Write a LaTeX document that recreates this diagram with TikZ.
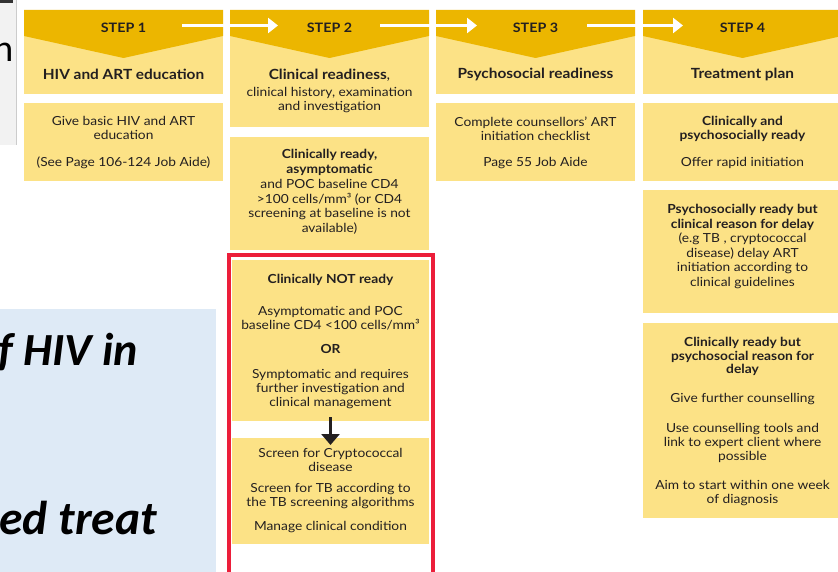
\documentclass[tikz,border=0pt]{standalone}
\usepackage{fontspec}
\setmainfont{Lato}[FakeStretch=1.1]
\newfontfamily\calib{Carlito}
\usetikzlibrary{arrows.meta}
\definecolor{gold}{RGB}{236,182,0}
\definecolor{lightyel}{RGB}{252,226,134}
\definecolor{redb}{RGB}{236,30,58}
\definecolor{bluebg}{RGB}{222,234,246}
\definecolor{greybg}{RGB}{242,242,242}
\definecolor{ink}{RGB}{35,31,32}
\begin{document}
\begin{tikzpicture}[x=1pt,y=-1pt,
  body/.style={align=center, font=\fontsize{12.5}{14}\selectfont, inner sep=0pt, text=ink},
  bsub/.style={align=center, font=\fontsize{12.5}{14}\selectfont\bfseries, inner sep=0pt, text=ink},
  htitle/.style={font=\fontsize{14}{16}\selectfont\bfseries, inner sep=0pt, text=ink},
  steplab/.style={font=\fontsize{13}{16}\selectfont\bfseries, inner sep=0pt, text=ink},
  ybox/.style={fill=lightyel, draw=none, anchor=north west, inner sep=0pt, minimum width=199pt},
  whitearrow/.style={draw=white, line width=3.2pt, -{Triangle[length=10pt,width=15pt]}},
  bigtext/.style={font=\calib\fontsize{46}{46}\selectfont\bfseries\itshape, inner sep=0pt, anchor=base west},
]
\useasboundingbox (0,0) rectangle (838,572);
\clip (0,0) rectangle (838,572);
\fill[white] (0,0) rectangle (838,572);

% left slide remnants
\fill[greybg] (0,0) rectangle (17,145);
\draw[black!20, line width=0.8pt] (16.5,0) -- (16.5,145);
\fill[black!80] (0,0) rectangle (13,3.5);
\node[font=\calib\fontsize{38}{38}\selectfont, inner sep=0pt, anchor=base east] (nglyph) at (13.5,62) {n};
\fill[bluebg] (0,309) rectangle (216,580);
\node[bigtext] (bt1) at (-2,365) {f HIV in};
\node[bigtext, font=\calib\fontsize{47.5}{47.5}\selectfont\bfseries\itshape, anchor=base east] (bt2) at (157,534) {ed treat};

% header bands
\foreach \L/\B in {24/94, 230/127, 436/94, 643/94}{
  \fill[lightyel] (\L,10) rectangle ({\L+199},\B);
  \fill[gold] (\L,10) -- ({\L+199},10) -- ({\L+199},36) -- ({\L+99.5},58) -- (\L,36) -- cycle;
}

% step arrows
\coordinate (a1s) at (182,25.5); \coordinate (a1e) at (278,25.5);
\coordinate (a2s) at (380,25.5); \coordinate (a2e) at (477,25.5);
\coordinate (a3s) at (587,25.5); \coordinate (a3e) at (683,25.5);
\draw[whitearrow] (a1s) -- (a1e);
\draw[whitearrow] (a2s) -- (a2e);
\draw[whitearrow] (a3s) -- (a3e);

% step labels and titles
\node[steplab] (s1) at (123.5,28) {STEP 1};
\node[steplab] (s2) at (329.5,28) {STEP 2};
\node[steplab] (s3) at (535.5,28) {STEP 3};
\node[steplab] (s4) at (742.5,28) {STEP 4};
\node[htitle] (t1) at (123.5,74) {HIV and ART education};
\node[htitle] (t2) at (329.5,75) {Clinical readiness{\mdseries ,}};
\node[body] (t2b) at (329.5,100) {clinical history, examination\\and investigation};
\node[htitle] (t3) at (535.5,74) {Psychosocial readiness};
\node[htitle] (t4) at (742.5,74) {Treatment plan};

% column 1
\node[ybox, minimum height=78pt] (b1) at (24,103) {};
\node[body] (b1a) at (123.5,128) {Give basic HIV and ART\\education};
\node[body] (b1b) at (123.5,163) {(See Page 106-124 Job Aide)};

% column 2
\node[ybox, minimum height=113pt] (b2) at (230,137) {};
\node[body, font=\fontsize{12.5}{14.7}\selectfont] (b2a) at (329.5,192) {\textbf{Clinically ready,}\\\textbf{asymptomatic}\\and POC baseline CD4\\>100 cells/mm³ (or CD4\\screening at baseline is not\\available)};
\node[ybox, minimum width=197pt, minimum height=161pt] (rb1) at (232,260) {};
\node[ybox, minimum width=197pt, minimum height=106pt] (rb2) at (232,438) {};
\node[bsub] (r1) at (330.5,280) {Clinically NOT ready};
\node[body] (r2) at (330.5,318.5) {Asymptomatic and POC\\baseline CD4 <100 cells/mm³};
\node[bsub] (r3) at (330.5,349) {OR};
\node[body] (r4) at (330.5,389.5) {Symptomatic and requires\\further investigation and\\clinical management};
\node[body] (r5) at (330.5,460) {Screen for Cryptococcal\\disease};
\node[body] (r6) at (330.5,496.5) {Screen for TB according to\\the TB screening algorithms};
\node[body] (r7) at (330.5,527) {Manage clinical condition};
\draw[ink, line width=3pt, -{Triangle[length=11pt,width=18pt]}] ([yshift=4pt]rb1.south -| r4.south) -- ([yshift=-7pt]rb2.north -| r4.south);
\draw[redb, line width=3.5pt] (229,255) rectangle (433,590);

% column 3
\node[ybox, minimum height=78pt] (b3) at (436,103) {};
\node[body] (b3a) at (535.5,128.5) {Complete counsellors' ART\\initiation checklist};
\node[body] (b3b) at (535.5,163) {Page 55 Job Aide};

% column 4
\node[ybox, minimum height=78pt] (b4) at (643,103) {};
\node[bsub] (b4a) at (742.5,128.5) {Clinically and\\psychosocially ready};
\node[body] (b4b) at (742.5,163) {Offer rapid initiation};
\node[ybox, minimum height=123pt] (b5) at (643,190) {};
\node[body, font=\fontsize{12.5}{14.6}\selectfont] (b5a) at (742.5,246.5) {\textbf{Psychosocially ready but}\\\textbf{clinical reason for delay}\\(e.g TB , cryptococcal\\disease) delay ART\\initiation according to\\clinical guidelines};
\node[ybox, minimum height=195pt] (b6) at (643,323) {};
\node[bsub, font=\fontsize{12.5}{13.5}\selectfont\bfseries] (b6a) at (742.5,356.5) {Clinically ready but\\psychosocial reason for\\delay};
\node[body] (b6b) at (742.5,399) {Give further counselling};
\node[body] (b6c) at (742.5,443) {Use counselling tools and\\link to expert client where\\possible};
\node[body] (b6d) at (742.5,493) {Aim to start within one week\\of diagnosis};
\end{tikzpicture}
\end{document}
